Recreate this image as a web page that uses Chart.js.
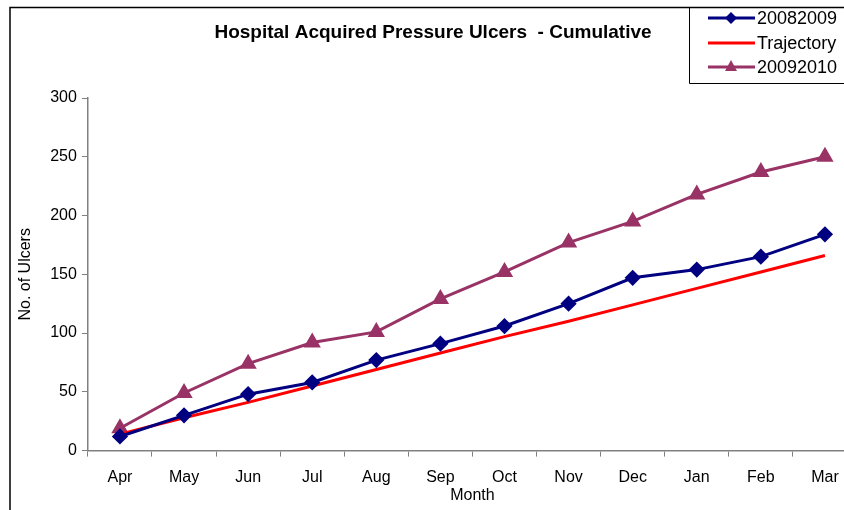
<!DOCTYPE html>
<html>
<head>
<meta charset="utf-8">
<script src="https://cdn.jsdelivr.net/npm/chart.js@4.4.0/dist/chart.umd.min.js"></script>
<style>
  html, body { margin: 0; padding: 0; background: #fff; overflow: hidden; }
  #wrap { width: 844px; height: 510px; overflow: hidden; }
</style>
</head>
<body>
<div id="wrap"><canvas id="ulcerChart" width="872" height="510"></canvas></div>
<script>
// months of the financial year
var months = ['Apr', 'May', 'Jun', 'Jul', 'Aug', 'Sep', 'Oct', 'Nov', 'Dec', 'Jan', 'Feb', 'Mar'];

// cumulative ulcers
var year0809 = [12, 30, 48, 58, 77, 91, 106, 125, 147, 154, 165, 184];
var trajectory = [14, 28, 41, 55, 69, 83, 97, 110, 124, 138, 152, 166];
var year0910 = [19, 49, 74, 92, 101, 129, 152, 177, 195, 218, 237, 250];

var yTicks = [0, 50, 100, 150, 200, 250, 300];

var chartTitle = 'Hospital Acquired Pressure Ulcers  - Cumulative';

var fontFam = '"Liberation Sans", Arial, sans-serif';

// frame, title and the boxed legend like the excel original
var decorPlugin = {
  id: 'decor',
  afterDraw: function (chart) {
    var c = chart.ctx;
    c.save();
    // outer frame (top + left only visible)
    c.strokeStyle = '#000';
    c.lineWidth = 1.5;
    c.beginPath();
    c.moveTo(10, 510);
    c.lineTo(10, 7.5);
    c.lineTo(844, 7.5);
    c.stroke();

    // title
    c.fillStyle = '#000';
    c.font = 'bold 19px ' + fontFam;
    c.textAlign = 'center';
    c.textBaseline = 'middle';
    c.fillText(chartTitle, 433, 33);

    // legend box
    c.lineWidth = 1;
    c.strokeStyle = '#000';
    c.beginPath();
    c.moveTo(689.5, 7.5);
    c.lineTo(689.5, 83.5);
    c.lineTo(844, 83.5);
    c.stroke();

    var rowsY = [18, 43, 67];
    chart.data.datasets.forEach(function (ds, i) {
      var y = rowsY[i];
      c.strokeStyle = ds.borderColor;
      c.lineWidth = 3;
      c.beginPath();
      c.moveTo(708, y);
      c.lineTo(755, y);
      c.stroke();
      c.fillStyle = ds.borderColor;
      if (ds.pointStyle === 'rectRot') {
        c.beginPath();
        c.moveTo(731, y - 6);
        c.lineTo(737, y);
        c.lineTo(731, y + 6);
        c.lineTo(725, y);
        c.closePath();
        c.fill();
      } else if (ds.pointStyle === 'triangle') {
        c.beginPath();
        c.moveTo(731, y - 7);
        c.lineTo(737, y + 4);
        c.lineTo(725, y + 4);
        c.closePath();
        c.fill();
      }
      c.fillStyle = '#000';
      c.font = '18px ' + fontFam;
      c.textAlign = 'left';
      c.textBaseline = 'middle';
      c.fillText(ds.label, 757, y + 1);
    });
    c.restore();
  }
};

var ctx = document.getElementById('ulcerChart');

var ulcerChart = new Chart(ctx, {
  type: 'line',
  data: {
    labels: months,
    datasets: [{
      label: '20082009',
      data: year0809,
      borderColor: '#000080',
      backgroundColor: '#000080',
      borderWidth: 3,
      pointStyle: 'rectRot',
      pointRadius: 6,
      pointHoverRadius: 6,
      tension: 0
    }, {
      label: 'Trajectory',
      data: trajectory,
      borderColor: '#FF0000',
      backgroundColor: '#FF0000',
      borderWidth: 3,
      pointRadius: 0,
      pointStyle: false,
      tension: 0
    }, {
      label: '20092010',
      data: year0910,
      borderColor: '#993366',
      backgroundColor: '#993366',
      borderWidth: 3,
      pointStyle: 'triangle',
      pointRadius: 7,
      pointHoverRadius: 7,
      tension: 0
    }]
  },
  options: {
    responsive: false,
    animation: false,
    layout: {
      padding: { top: 98, left: 16, right: 15, bottom: 5 }
    },
    plugins: {
      legend: { display: false },
      title: { display: false },
      tooltip: { enabled: false }
    },
    scales: {
      x: {
        offset: true,
        grid: {
          offset: true,
          drawOnChartArea: false,
          drawTicks: true,
          tickLength: 6,
          color: '#808080'
        },
        border: { color: '#808080', width: 1.5 },
        ticks: {
          color: '#000',
          font: { size: 16, family: fontFam },
          padding: 11,
          maxRotation: 0,
          autoSkip: false
        },
        title: {
          display: true,
          text: 'Month',
          color: '#000',
          font: { size: 16, family: fontFam },
          padding: { top: -12, bottom: 0 }
        }
      },
      y: {
        min: 0,
        max: 300,
        afterBuildTicks: function (axis) {
          axis.ticks = yTicks.map(function (v) { return { value: v }; });
        },
        grid: {
          drawOnChartArea: false,
          drawTicks: true,
          tickLength: 6,
          color: '#808080'
        },
        border: { color: '#808080', width: 1.5 },
        ticks: {
          color: '#000',
          font: { size: 16, family: fontFam },
          padding: 5
        },
        title: {
          display: true,
          text: 'No. of Ulcers',
          color: '#000',
          font: { size: 16, family: fontFam },
          padding: { top: 0, bottom: 10 }
        }
      }
    }
  },
  plugins: [decorPlugin]
});
</script>
</body>
</html>
